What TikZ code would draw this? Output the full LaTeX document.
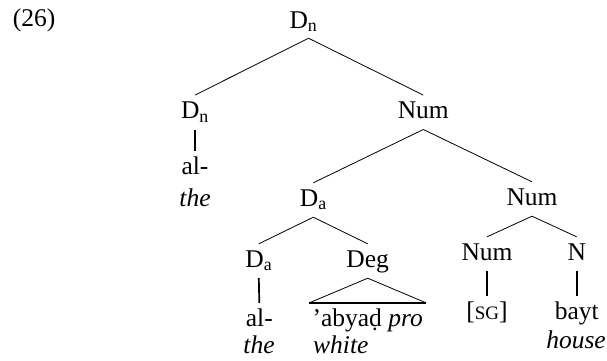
\documentclass[tikz,border=0pt]{standalone}
\usepackage{fontspec}
\setmainfont{Liberation Serif}
\begin{document}
\begin{tikzpicture}[x=1pt,y=-1pt,
  every node/.style={font=\fontsize{25.5}{30}\selectfont, inner xsep=1pt, inner ysep=5pt,
    text height=18pt, text depth=6pt, anchor=base},
  edge/.style={line width=0.8pt},
  stem/.style={line width=1.7pt},
  base/.style={line width=1.6pt}]
\useasboundingbox (0,0) rectangle (607,360);
\newcommand{\sub}[1]{\textsubscript{#1}}
% number
\node[anchor=base west] (num26) at (11.7,26.7) {(26)};
% nodes
\node (root) at (303.5,28) {D\sub{n}};
\coordinate (rootfoot) at ([xshift=5pt,yshift=1pt]root.south);
\node (dn) at (195,118.3) {D\sub{n}};
\node (num1) at (423.3,118.3) {Num};
\node (al1) at (195,174) {al-};
\node (the1) at (195,206.7) {\itshape the};
\node (da1) at (313.3,206) {D\sub{a}};
\node (num2) at (532,205) {Num};
\node (da2) at (258.8,267) {D\sub{a}};
\node (deg) at (367.7,267) {Deg};
\node (num3) at (487,260) {Num};
\node (n) at (576.7,260) {N};
\node (al2) at (259.3,326) {al-};
\node (the2) at (259,353) {\itshape the};
\node[inner xsep=3pt] (tri) at (367.7,326) {’abyaḍ \textit{pro}};
\node[anchor=base west, inner xsep=0pt] (white) at (313,353) {\itshape white};
\node (sg) at (487,319) {[{\fontsize{19}{22}\selectfont SG}]};
\node (bayt) at (576.7,319) {bayt};
\node (house) at (576,348.3) {\itshape house};
% edges
\draw[edge] (rootfoot) -- (dn.north);
\draw[edge] (rootfoot) -- (num1.north);
\draw[edge] (num1.south) -- (da1.north);
\draw[edge] (num1.south) -- (num2.north);
\draw[edge] (da1.south) -- (da2.north);
\draw[edge] (da1.south) -- (deg.north);
\draw[edge] (num2.south) -- (num3.north);
\draw[edge] (num2.south) -- (n.north);
\draw[stem] (dn.south) -- (al1.north);
\draw[stem] (da2.south) -- (al2.north);
\draw[stem] (num3.south) -- (sg.north);
\draw[stem] (n.south) -- (bayt.north);
% triangle
\draw[edge] (tri.north west) -- (deg.south) -- (tri.north east);
\draw[base] (tri.north west) -- (tri.north east);
\end{tikzpicture}
\end{document}
